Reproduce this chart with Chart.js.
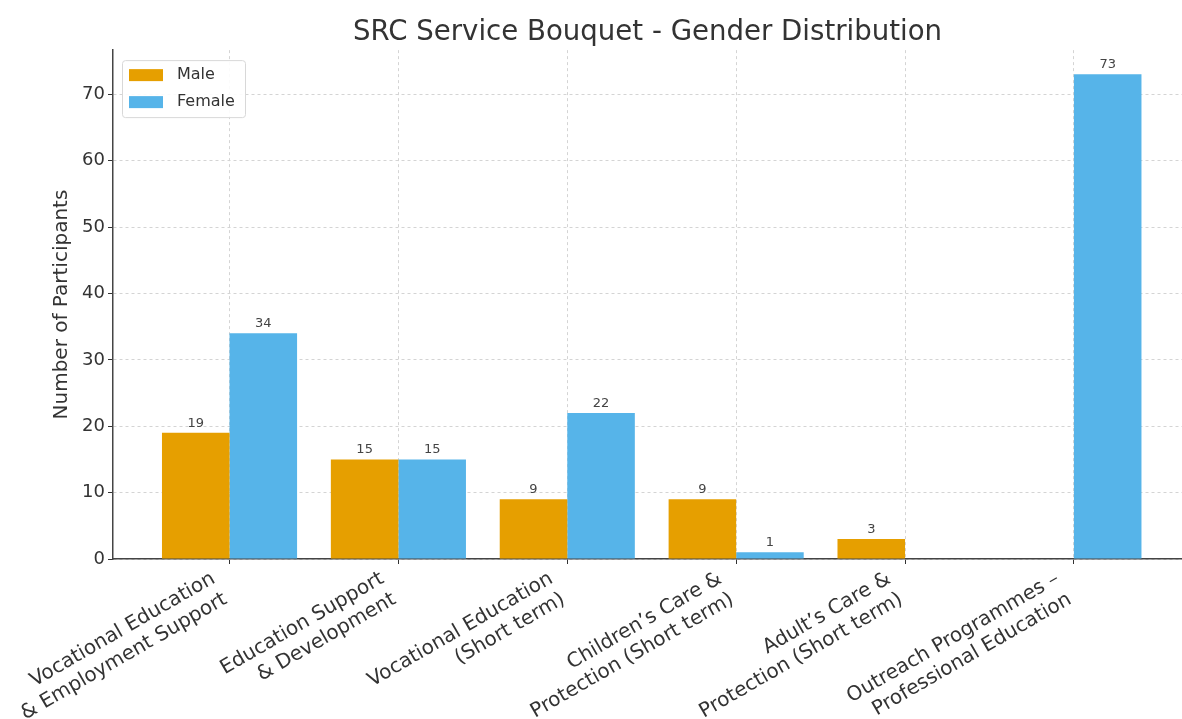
<!DOCTYPE html>
<html>
<head>
<meta charset="utf-8">
<script src="https://cdn.jsdelivr.net/npm/chart.js@4"></script>
<style>
    html, body { margin: 0; padding: 0; background: #fff; overflow: hidden; }
    #wrap { width: 1182px; height: 719px; }
</style>
</head>
<body>
<div id="wrap"><canvas id="chart" width="1182" height="719"></canvas></div>
<script>
    // values
    var categories = [
        ['Vocational Education', '& Employment Support'],
        ['Education Support', '& Development'],
        ['Vocational Education', '(Short term)'],
        ['Children\u2019s Care &', 'Protection (Short term)'],
        ['Adult\u2019s Care &', 'Protection (Short term)'],
        ['Outreach Programmes \u2013', 'Professional Education']
    ];
    var maleValues = [19, 15, 9, 9, 3, null];
    var femaleValues = [34, 15, 22, 1, null, 73];
    var yTicks = [0, 10, 20, 30, 40, 50, 60, 70];

    var FONT = "'DejaVu Sans', sans-serif";
    var TEXT = '#333333';

    function toPoints(values) {
        return values.map(function (v, i) { return { x: i, y: v }; });
    }

    // value labels above each bar
    var barLabels = {
        id: 'barLabels',
        afterDatasetsDraw: function (chart) {
            var ctx = chart.ctx;
            ctx.save();
            ctx.font = '13px ' + FONT;
            ctx.fillStyle = '#444444';
            ctx.textAlign = 'center';
            ctx.textBaseline = 'bottom';
            chart.data.datasets.forEach(function (ds, di) {
                var meta = chart.getDatasetMeta(di);
                meta.data.forEach(function (bar, i) {
                    var v = ds.data[i].y;
                    if (v === null || v === undefined) return;
                    ctx.fillText(String(v), bar.x, bar.y - 3);
                });
            });
            ctx.restore();
        }
    };

    // matplotlib-like legend box in the top-left of the plot
    var boxLegend = {
        id: 'boxLegend',
        afterDatasetsDraw: function (chart) {
            var ctx = chart.ctx;
            var area = chart.chartArea;
            var x = area.left + 9, y = area.top + 10, w = 123, h = 57;
            ctx.save();
            ctx.fillStyle = 'rgba(255,255,255,0.9)';
            ctx.strokeStyle = '#d8d8d8';
            ctx.lineWidth = 1;
            ctx.beginPath();
            ctx.roundRect(x + 0.5, y + 0.5, w, h, 3);
            ctx.fill();
            ctx.stroke();
            ctx.font = '16px ' + FONT;
            ctx.textBaseline = 'middle';
            ctx.textAlign = 'left';
            chart.data.datasets.forEach(function (ds, i) {
                var rowY = y + 15 + i * 27;
                ctx.fillStyle = ds.backgroundColor;
                ctx.fillRect(x + 7, rowY - 6, 34, 12);
                ctx.fillStyle = TEXT;
                ctx.fillText(ds.label, x + 55, rowY);
            });
            ctx.restore();
        }
    };

    var ctx = document.getElementById('chart').getContext('2d');
    new Chart(ctx, {
        type: 'bar',
        data: {
            datasets: [{
                label: 'Male',
                data: toPoints(maleValues),
                backgroundColor: '#E69F00',
                categoryPercentage: 0.8,
                barPercentage: 1.0
            }, {
                label: 'Female',
                data: toPoints(femaleValues),
                backgroundColor: '#56B4E9',
                categoryPercentage: 0.8,
                barPercentage: 1.0
            }]
        },
        options: {
            responsive: false,
            animation: false,
            layout: { padding: 0 },
            plugins: {
                legend: { display: false },
                tooltip: { enabled: false },
                title: {
                    display: true,
                    fullSize: false,
                    text: 'SRC Service Bouquet - Gender Distribution',
                    color: TEXT,
                    font: { family: FONT, size: 27.6, weight: 'normal', lineHeight: 1.2 },
                    padding: { top: 16, bottom: 1 }
                }
            },
            scales: {
                x: {
                    type: 'linear',
                    min: -0.69,
                    max: 5.64,
                    offset: false,
                    afterFit: function (scale) { scale.height = 160; },
                    afterBuildTicks: function (scale) {
                        scale.ticks = categories.map(function (c, i) { return { value: i }; });
                    },
                    ticks: {
                        autoSkip: false,
                        includeBounds: false,
                        minRotation: 30,
                        maxRotation: 30,
                        padding: 3,
                        labelOffset: -16,
                        color: TEXT,
                        font: { family: FONT, size: 20 },
                        callback: function (v) { return categories[v] || ''; }
                    },
                    grid: { offset: false, color: '#d4d4d4', tickColor: '#333333', tickLength: 5, lineWidth: 1 },
                    border: { display: true, color: '#444444', width: 1.5, dash: [3, 3] }
                },
                y: {
                    min: 0,
                    max: 76.65,
                    afterFit: function (scale) { scale.width = 113; },
                    afterBuildTicks: function (scale) {
                        scale.ticks = yTicks.map(function (v) { return { value: v }; });
                    },
                    ticks: {
                        padding: 3,
                        color: TEXT,
                        font: { family: FONT, size: 18 }
                    },
                    grid: { color: '#d4d4d4', tickColor: '#333333', tickLength: 5, lineWidth: 1 },
                    border: { display: true, color: '#444444', width: 1.5, dash: [3, 3] },
                    title: {
                        display: true,
                        text: 'Number of Participants',
                        color: TEXT,
                        font: { family: FONT, size: 20 },
                        padding: { top: 50, bottom: 0 }
                    }
                }
            }
        },
        plugins: [barLabels, boxLegend]
    });
</script>
</body>
</html>
